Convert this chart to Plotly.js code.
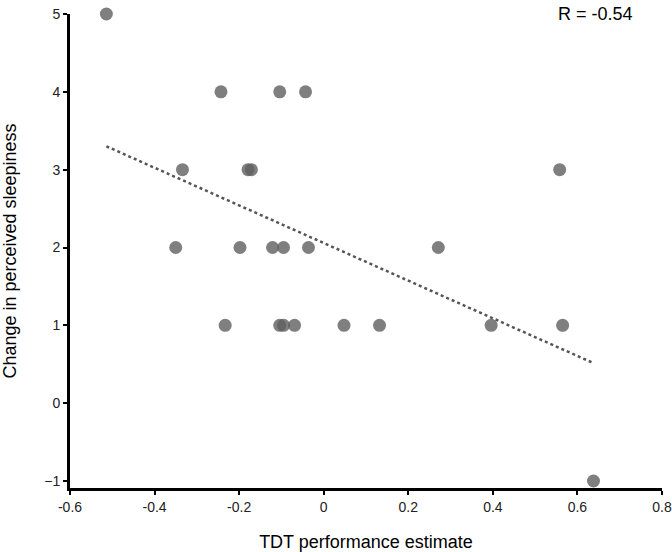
<!DOCTYPE html>
<html>
<head>
<meta charset="utf-8">
<script src="https://cdn.plot.ly/plotly-3.0.1.min.js"></script>
<style>html,body{margin:0;padding:0;background:#fff;}#chart{width:672px;height:552px;}</style>
</head>
<body>
<div id="chart"></div>
<script>
// TDT performance estimate (x) vs change in perceived sleepiness (y)
const tdtEstimate = [-0.514, -0.243, -0.104, -0.043, -0.334, -0.179, -0.171, 0.558,
  -0.350, -0.198, -0.121, -0.095, -0.036, 0.271,
  -0.233, -0.104, -0.095, -0.069, 0.048, 0.132, 0.396, 0.565, 0.638];
const sleepinessChange = [5, 4, 4, 4, 3, 3, 3, 3,
  2, 2, 2, 2, 2, 2,
  1, 1, 1, 1, 1, 1, 1, 1, -1];
const xTickVals = [-0.6, -0.4, -0.2, 0, 0.2, 0.4, 0.6, 0.8];
const xTickText = ['-0.6', '-0.4', '-0.2', '0', '0.2', '0.4', '0.6', '0.8'];
const yTickVals = [-1, 0, 1, 2, 3, 4, 5];

// least-squares fit and Pearson R
const n = tdtEstimate.length;
const mx = tdtEstimate.reduce((a, b) => a + b, 0) / n;
const my = sleepinessChange.reduce((a, b) => a + b, 0) / n;
let sxy = 0, sxx = 0, syy = 0;
for (let i = 0; i < n; i++) {
  const dx = tdtEstimate[i] - mx, dy = sleepinessChange[i] - my;
  sxy += dx * dy; sxx += dx * dx; syy += dy * dy;
}
const slope = sxy / sxx;
const intercept = my - slope * mx;
const r = sxy / Math.sqrt(sxx * syy);
const xMin = Math.min(...tdtEstimate), xMax = Math.max(...tdtEstimate);
const fitX = [xMin, xMax];
const fitY = fitX.map(v => intercept + slope * v);

const font = 'Arial, "Liberation Sans", sans-serif';

const traces = [
  {
    x: fitX, y: fitY, type: 'scatter', mode: 'lines',
    line: {color: '#555555', width: 2.5, dash: 'dot'},
    hoverinfo: 'skip', cliponaxis: false
  },
  {
    x: tdtEstimate, y: sleepinessChange, type: 'scatter', mode: 'markers',
    marker: {size: 13, color: 'rgba(95,95,95,0.8)', line: {width: 0}},
    cliponaxis: false
  }
];

const layout = {
  width: 672, height: 552,
  margin: {l: 70, r: 10, t: 14, b: 64},
  paper_bgcolor: '#ffffff', plot_bgcolor: '#ffffff',
  showlegend: false,
  font: {family: font, color: '#000000', size: 14},
  xaxis: {
    range: [-0.6, 0.8], tickvals: xTickVals, ticktext: xTickText,
    showgrid: false, zeroline: false,
    showline: true, linecolor: '#000000', linewidth: 3,
    ticks: 'outside', ticklen: 4, tickwidth: 2, tickcolor: '#000000',
    tickfont: {size: 14, color: '#222'},
    title: {text: 'TDT performance estimate', font: {size: 18}, standoff: 22}
  },
  yaxis: {
    range: [-1.09, 5], tickvals: yTickVals,
    showgrid: false, zeroline: false,
    showline: true, linecolor: '#000000', linewidth: 3,
    ticks: 'outside', ticklen: 4, tickwidth: 2, tickcolor: '#000000',
    tickfont: {size: 14, color: '#222'},
    title: {text: 'Change in perceived sleepiness', font: {size: 18}, standoff: 30}
  },
  annotations: [{
    xref: 'paper', yref: 'paper', x: 0.888, y: 1.025,
    xanchor: 'center', yanchor: 'top', showarrow: false,
    text: 'R = ' + r.toFixed(2), font: {size: 18, family: font, color: '#000'}
  }]
};

Plotly.newPlot('chart', traces, layout, {displayModeBar: false, staticPlot: true});
</script>
</body>
</html>
